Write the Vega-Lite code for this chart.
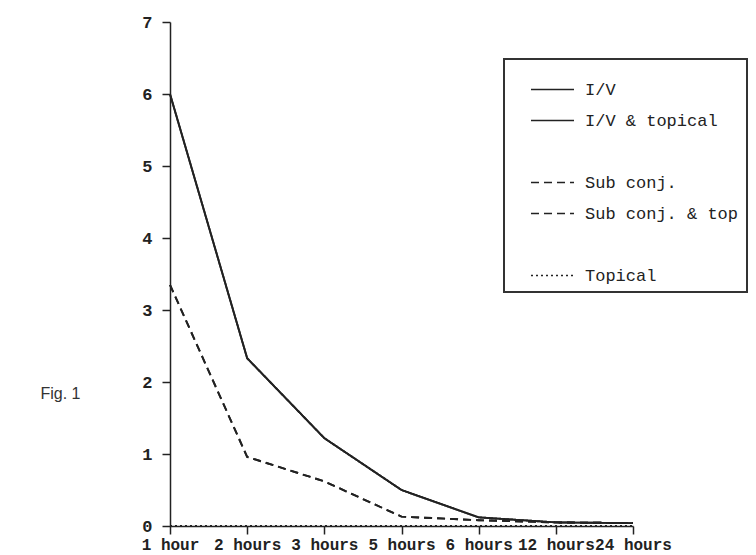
{
  "$schema": "https://vega.github.io/schema/vega-lite/v6.json",
  "width": 463,
  "height": 504,
  "autosize": {"type": "none"},
  "padding": {"left": 170, "top": 22, "right": 123, "bottom": 29},
  "background": "white",
  "config": {
    "view": {"stroke": null},
    "axis": {
      "domainColor": "#222",
      "tickColor": "#222",
      "labelColor": "#222",
      "labelFont": "Liberation Mono",
      "grid": false,
      "domainWidth": 1.5,
      "tickWidth": 1.5
    },
    "legend": {
      "strokeColor": "#333",
      "strokeWidth": 2,
      "fillColor": "white"
    }
  },
  "data": {
    "values": [
      {"time": "1 hour", "series": "I/V", "value": 6.0},
      {"time": "2 hours", "series": "I/V", "value": 2.33},
      {"time": "3 hours", "series": "I/V", "value": 1.22},
      {"time": "5 hours", "series": "I/V", "value": 0.5},
      {"time": "6 hours", "series": "I/V", "value": 0.12},
      {"time": "12 hours", "series": "I/V", "value": 0.05},
      {"time": "24 hours", "series": "I/V", "value": 0.04},
      {"time": "1 hour", "series": "I/V & topical", "value": 6.0},
      {"time": "2 hours", "series": "I/V & topical", "value": 2.33},
      {"time": "3 hours", "series": "I/V & topical", "value": 1.22},
      {"time": "5 hours", "series": "I/V & topical", "value": 0.5},
      {"time": "6 hours", "series": "I/V & topical", "value": 0.12},
      {"time": "12 hours", "series": "I/V & topical", "value": 0.05},
      {"time": "24 hours", "series": "I/V & topical", "value": 0.04},
      {"time": "1 hour", "series": "Sub conj.", "value": 3.35},
      {"time": "2 hours", "series": "Sub conj.", "value": 0.96},
      {"time": "3 hours", "series": "Sub conj.", "value": 0.62},
      {"time": "5 hours", "series": "Sub conj.", "value": 0.13},
      {"time": "6 hours", "series": "Sub conj.", "value": 0.08},
      {"time": "12 hours", "series": "Sub conj.", "value": 0.05},
      {"time": "24 hours", "series": "Sub conj.", "value": 0.04},
      {"time": "1 hour", "series": "Sub conj. & top", "value": 3.35},
      {"time": "2 hours", "series": "Sub conj. & top", "value": 0.96},
      {"time": "3 hours", "series": "Sub conj. & top", "value": 0.62},
      {"time": "5 hours", "series": "Sub conj. & top", "value": 0.13},
      {"time": "6 hours", "series": "Sub conj. & top", "value": 0.08},
      {"time": "12 hours", "series": "Sub conj. & top", "value": 0.05},
      {"time": "24 hours", "series": "Sub conj. & top", "value": 0.04},
      {"time": "1 hour", "series": "Topical", "value": 0},
      {"time": "2 hours", "series": "Topical", "value": 0},
      {"time": "3 hours", "series": "Topical", "value": 0},
      {"time": "5 hours", "series": "Topical", "value": 0},
      {"time": "6 hours", "series": "Topical", "value": 0},
      {"time": "12 hours", "series": "Topical", "value": 0},
      {"time": "24 hours", "series": "Topical", "value": 0}
    ]
  },
  "mark": {"type": "line", "strokeWidth": 1.9},
  "encoding": {
    "x": {
      "field": "time",
      "type": "ordinal",
      "sort": ["1 hour", "2 hours", "3 hours", "5 hours", "6 hours", "12 hours", "24 hours"],
      "scale": {"type": "point", "padding": 0},
      "axis": {
        "title": null,
        "labelAngle": 0,
        "labelFontSize": 16,
        "labelFontWeight": "bold",
        "tickSize": 8,
        "labelPadding": 2
      }
    },
    "y": {
      "field": "value",
      "type": "quantitative",
      "scale": {"domain": [0, 7], "nice": false},
      "axis": {
        "values": [0, 1, 2, 3, 4, 5, 6, 7],
        "tickSize": 8,
        "labelPadding": 10,
        "labelFontSize": 17,
        "labelFontWeight": "bold",
        "title": "Fig. 1",
        "titleAngle": 0,
        "titleX": -130,
        "titleY": 371,
        "titleAlign": "left",
        "titleBaseline": "middle",
        "titleFont": "Liberation Sans",
        "titleFontWeight": "normal",
        "titleFontSize": 16,
        "titleColor": "#333"
      }
    },
    "color": {
      "field": "series",
      "type": "nominal",
      "scale": {
        "domain": ["I/V", "I/V & topical", " ", "Sub conj.", "Sub conj. & top", "  ", "Topical"],
        "range": ["#222", "#222", "transparent", "#222", "#222", "transparent", "#222"]
      },
      "legend": {
        "title": null,
        "orient": "none",
        "legendX": 334,
        "legendY": 37,
        "padding": 8,
        "rowPadding": 0,
        "symbolOffset": 18,
        "symbolSize": 1850,
        "symbolStrokeWidth": 1.5,
        "labelOffset": 10,
        "labelFont": "Liberation Mono",
        "labelFontSize": 17,
        "labelColor": "#222",
        "labelExpr": "datum.label == 'I/V & topical' ? 'I/V &  topical' : datum.label"
      }
    },
    "strokeDash": {
      "field": "series",
      "type": "nominal",
      "scale": {
        "domain": ["I/V", "I/V & topical", " ", "Sub conj.", "Sub conj. & top", "  ", "Topical"],
        "range": [[1, 0], [1, 0], [1, 0], [8, 5], [8, 5], [1, 0], [2, 3]]
      },
      "legend": {
        "title": null,
        "orient": "none",
        "legendX": 334,
        "legendY": 37,
        "padding": 8,
        "rowPadding": 0,
        "symbolOffset": 18,
        "symbolSize": 1850,
        "symbolStrokeWidth": 1.5,
        "labelOffset": 10,
        "labelFont": "Liberation Mono",
        "labelFontSize": 17,
        "labelColor": "#222",
        "labelExpr": "datum.label == 'I/V & topical' ? 'I/V &  topical' : datum.label"
      }
    }
  }
}
